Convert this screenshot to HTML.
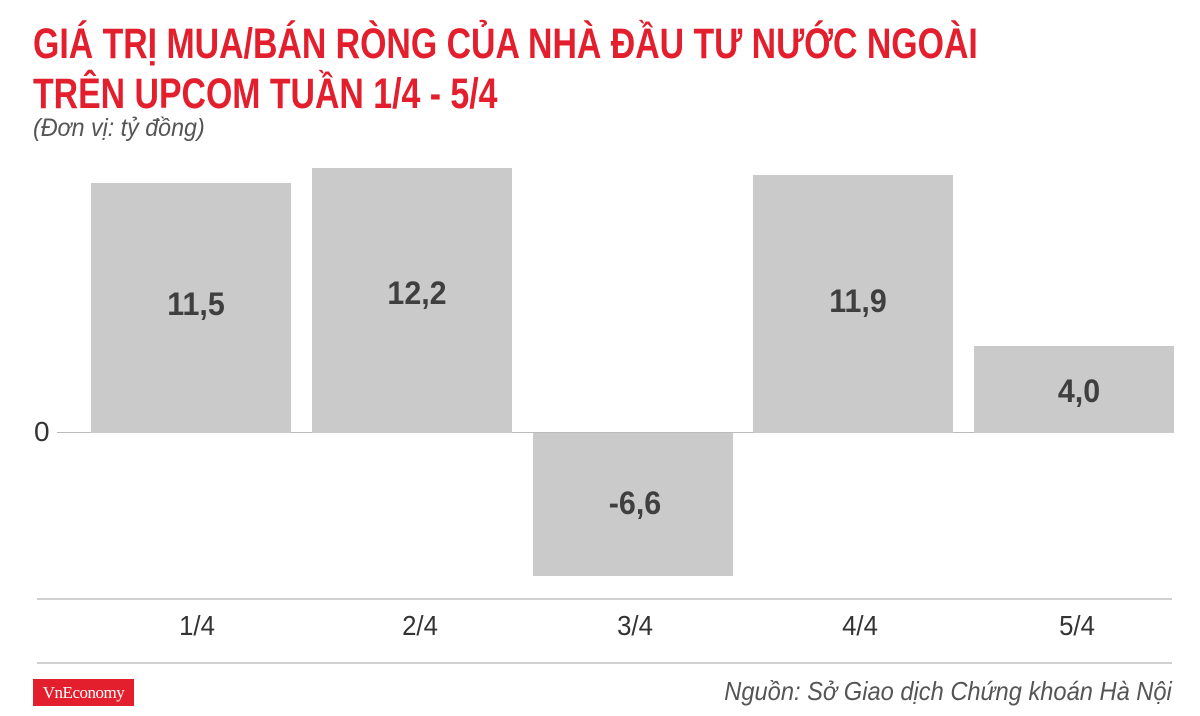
<!DOCTYPE html>
<html><head><meta charset="utf-8"><style>
body{margin:0;width:1200px;height:716px;background:#fff;position:relative;overflow:hidden;font-family:"Liberation Sans",sans-serif}
.t{position:absolute;left:33px;color:#e31e2d;font-weight:bold;font-size:43px;line-height:1;white-space:nowrap;transform-origin:0 0}
.bar{position:absolute;background:#cbcaca;width:200px}
.v{position:absolute;width:200px;text-align:center;font-weight:bold;font-size:32px;color:#3f3f3f;transform:scaleX(0.95)}
.x{position:absolute;top:610px;width:200px;text-align:center;font-size:28px;color:#333;transform:scaleX(0.92)}
.hl{position:absolute;left:37px;width:1135px;height:2px;background:#d0d0d0}
</style></head><body>
<div class="t" style="top:23px;transform:scaleX(0.787)">GIÁ TRỊ MUA/BÁN RÒNG CỦA NHÀ ĐẦU TƯ NƯỚC NGOÀI</div>
<div class="t" style="top:73px;transform:scaleX(0.787)">TRÊN UPCOM TUẦN 1/4 - 5/4</div>
<div style="position:absolute;left:33px;top:114px;font-size:25px;font-style:italic;color:#555;transform:scaleX(0.93);transform-origin:0 0">(Đơn vị: tỷ đồng)</div>
<div style="position:absolute;left:57px;top:432px;width:1117px;height:1px;background:#bbb"></div>
<div style="position:absolute;left:34px;top:416px;font-size:28px;color:#333">0</div>
<div class="bar" style="left:91px;top:183px;height:250px"></div>
<div class="bar" style="left:312px;top:168px;height:265px"></div>
<div class="bar" style="left:533px;top:433px;height:143px"></div>
<div class="bar" style="left:753px;top:175px;height:258px"></div>
<div class="bar" style="left:974px;top:346px;height:87px"></div>
<div class="v" style="left:96px;top:286px">11,5</div>
<div class="v" style="left:317px;top:275px">12,2</div>
<div class="v" style="left:535px;top:485px">-6,6</div>
<div class="v" style="left:758px;top:283px">11,9</div>
<div class="v" style="left:979px;top:373px">4,0</div>
<div class="hl" style="top:598px"></div>
<div class="hl" style="top:662px"></div>
<div class="x" style="left:97px">1/4</div>
<div class="x" style="left:320px">2/4</div>
<div class="x" style="left:535px">3/4</div>
<div class="x" style="left:760px">4/4</div>
<div class="x" style="left:977px">5/4</div>
<div style="position:absolute;left:33px;top:679px;width:101px;height:27px;background:#e31e2d;color:#fff;font-family:'Liberation Serif',serif;font-size:17px;line-height:27px;text-align:center;letter-spacing:-0.5px">VnEconomy</div>
<div style="position:absolute;right:28px;top:676px;font-size:26px;font-style:italic;color:#555;transform:scaleX(0.91);transform-origin:100% 0;white-space:nowrap">Nguồn: Sở Giao dịch Chứng khoán Hà Nội</div>
</body></html>
